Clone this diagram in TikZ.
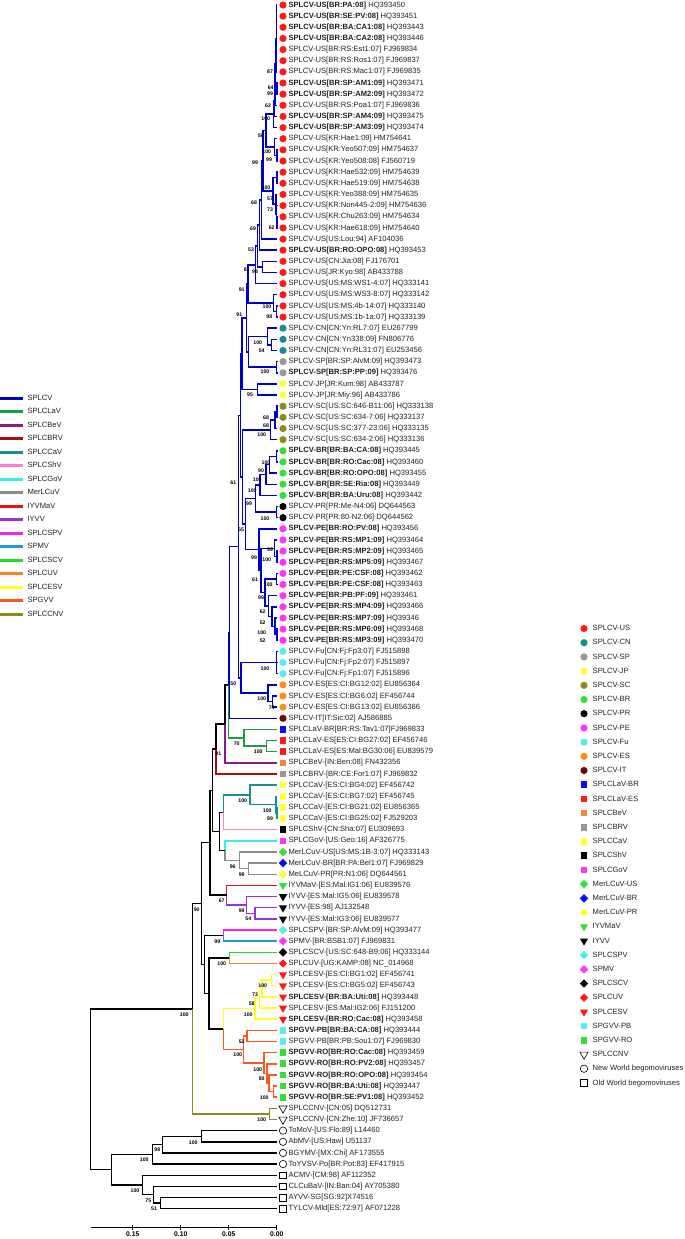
\documentclass[tikz,border=0pt]{standalone}
\usepackage{fontspec}
\setmainfont{Liberation Sans}
\usetikzlibrary{calc, shapes.geometric}

% branch colours
\definecolor{splcv}{HTML}{0000CC}
\definecolor{lav}{HTML}{1E9A4A}
\definecolor{bev}{HTML}{8B1A8B}
\definecolor{brv}{HTML}{A01010}
\definecolor{cav}{HTML}{1A8F8F}
\definecolor{shv}{HTML}{FF80C8}
\definecolor{gov}{HTML}{33F0F0}
\definecolor{mer}{HTML}{8C8C8C}
\definecolor{iyvmav}{HTML}{EE1111}
\definecolor{iyvv}{HTML}{9B30E0}
\definecolor{spv}{HTML}{FF22EE}
\definecolor{spmv}{HTML}{1E9BD7}
\definecolor{scv}{HTML}{22DD22}
\definecolor{uv}{HTML}{F0882A}
\definecolor{cesv}{HTML}{FFFF22}
\definecolor{gvv}{HTML}{FF5522}
\definecolor{cnv}{HTML}{8C8C1E}
% marker colours
\definecolor{cUS}{HTML}{FF1A1A}
\definecolor{cCN}{HTML}{1A8C8C}
\definecolor{cSP}{HTML}{999999}
\definecolor{cJP}{HTML}{FFFF33}
\definecolor{cSC}{HTML}{8C8C1E}
\definecolor{cBR}{HTML}{33E033}
\definecolor{cPE}{HTML}{FF33FF}
\definecolor{cFu}{HTML}{55EEEE}
\definecolor{cES}{HTML}{FF8C1A}
\definecolor{cIT}{HTML}{6B0A0A}
\definecolor{cLaBR}{HTML}{0A0AFF}
\definecolor{cBeV}{HTML}{F0883A}
\definecolor{txt}{HTML}{222222}

% leaf: index, marker, label
\newcommand{\leaf}[3]{%
  \coordinate (tip#1) at (277,{5+11.145*(#1-1)});
  \node[#2] (mk#1) at (283,{5+11.145*(#1-1)}) {};
  \node[lab] (lab#1) at (288.4,{5+11.145*(#1-1)}) {#3};}
% internal node half way between two children
\newcommand{\clade}[4]{%
  \path let \p1=(#3), \p2=(#4) in coordinate (#1) at (#2pt,{0.5*(\y1+\y2)});}
\newcommand{\br}[3]{\draw[tr,#1] (#2) |- (#3);}
\newcommand{\fork}[6]{\clade{#1}{#2}{#4}{#6}\br{#3}{#1}{#4}\br{#5}{#1}{#6}}
% right key row
\newcommand{\legrow}[3]{%
  \node[#2] (km#1) at (584,{628.5+14.2*(#1-1)}) {};
  \node[lab] (kt#1) at (592.5,{628.5+14.2*(#1-1)}) {#3};}

\begin{document}
\begin{tikzpicture}[x=1pt, y=-1pt,
    tr/.style={line width=1.45pt},
    lab/.style={anchor=west, inner sep=0pt, text=txt,
                font=\fontsize{7.6}{8}\selectfont, text height=5.6pt, text depth=1.4pt},
    bs/.style={inner sep=0pt, font=\fontsize{5.2}{5}\selectfont\bfseries},
    sclab/.style={inner sep=0pt, font=\fontsize{6.8}{7}\selectfont\bfseries},
    mdot/.style={circle, fill=#1, minimum size=7.2pt, inner sep=0pt},
    msq/.style={rectangle, fill=#1, minimum size=6.6pt, inner sep=0pt},
    mdia/.style={diamond, fill=#1, minimum size=8.6pt, inner sep=0pt},
    mtri/.style={regular polygon, regular polygon sides=3, shape border rotate=180,
                 fill=#1, minimum size=9.5pt, inner sep=0pt},
    motri/.style={regular polygon, regular polygon sides=3, shape border rotate=180,
                  draw, line width=0.6pt, minimum size=9.5pt, inner sep=0pt},
    mocirc/.style={circle, draw, line width=0.6pt, minimum size=7.4pt, inner sep=0pt},
    mosq/.style={rectangle, draw, line width=0.6pt, minimum size=6.8pt, inner sep=0pt}]

\fill[white] (0,0) rectangle (685,1239);
\useasboundingbox (0,0) rectangle (685,1239);

% ---- leaves
\leaf{1}{mdot=cUS}{\textbf{SPLCV-US[BR:PA:08]} HQ393450}
\leaf{2}{mdot=cUS}{\textbf{SPLCV-US[BR:SE:PV:08]} HQ393451}
\leaf{3}{mdot=cUS}{\textbf{SPLCV-US[BR:BA:CA1:08]} HQ393443}
\leaf{4}{mdot=cUS}{\textbf{SPLCV-US[BR:BA:CA2:08]} HQ393446}
\leaf{5}{mdot=cUS}{SPLCV-US[BR:RS:Est1:07] FJ969834}
\leaf{6}{mdot=cUS}{SPLCV-US[BR:RS:Ros1:07] FJ969837}
\leaf{7}{mdot=cUS}{SPLCV-US[BR:RS:Mac1:07] FJ969835}
\leaf{8}{mdot=cUS}{\textbf{SPLCV-US[BR:SP:AM1:09]} HQ393471}
\leaf{9}{mdot=cUS}{\textbf{SPLCV-US[BR:SP:AM2:09]} HQ393472}
\leaf{10}{mdot=cUS}{SPLCV-US[BR:RS:Poa1:07] FJ969836}
\leaf{11}{mdot=cUS}{\textbf{SPLCV-US[BR:SP:AM4:09]} HQ393475}
\leaf{12}{mdot=cUS}{\textbf{SPLCV-US[BR:SP:AM3:09]} HQ393474}
\leaf{13}{mdot=cUS}{SPLCV-US[KR:Hae1:09] HM754641}
\leaf{14}{mdot=cUS}{SPLCV-US[KR:Yeo507:09] HM754637}
\leaf{15}{mdot=cUS}{SPLCV-US[KR:Yeo508:08] FJ560719}
\leaf{16}{mdot=cUS}{SPLCV-US[KR:Hae532:09] HM754639}
\leaf{17}{mdot=cUS}{SPLCV-US[KR:Hae519:09] HM754638}
\leaf{18}{mdot=cUS}{SPLCV-US[KR:Yeo388:09] HM754635}
\leaf{19}{mdot=cUS}{SPLCV-US[KR:Non445-2:09] HM754636}
\leaf{20}{mdot=cUS}{SPLCV-US[KR:Chu263:09] HM754634}
\leaf{21}{mdot=cUS}{SPLCV-US[KR:Hae618:09] HM754640}
\leaf{22}{mdot=cUS}{SPLCV-US[US:Lou:94] AF104036}
\leaf{23}{mdot=cUS}{\textbf{SPLCV-US[BR:RO:OPO:08]} HQ393453}
\leaf{24}{mdot=cUS}{SPLCV-US[CN:Jia:08] FJ176701}
\leaf{25}{mdot=cUS}{SPLCV-US[JR:Kyo:98] AB433788}
\leaf{26}{mdot=cUS}{SPLCV-US[US:MS:WS1-4:07] HQ333141}
\leaf{27}{mdot=cUS}{SPLCV-US[US:MS:WS3-8:07] HQ333142}
\leaf{28}{mdot=cUS}{SPLCV-US[US:MS:4b-14:07] HQ333140}
\leaf{29}{mdot=cUS}{SPLCV-US[US:MS:1b-1a:07] HQ333139}
\leaf{30}{mdot=cCN}{SPLCV-CN[CN:Yn:RL7:07] EU267799}
\leaf{31}{mdot=cCN}{SPLCV-CN[CN:Yn338:09] FN806776}
\leaf{32}{mdot=cCN}{SPLCV-CN[CN:Yn:RL31:07] EU253456}
\leaf{33}{mdot=cSP}{SPLCV-SP[BR:SP:AlvM:09] HQ393473}
\leaf{34}{mdot=cSP}{\textbf{SPLCV-SP[BR:SP:PP:09]} HQ393476}
\leaf{35}{mdot=cJP}{SPLCV-JP[JR:Kum:98] AB433787}
\leaf{36}{mdot=cJP}{SPLCV-JP[JR:Miy:96] AB433786}
\leaf{37}{mdot=cSC}{SPLCV-SC[US:SC:646-B11:06] HQ333138}
\leaf{38}{mdot=cSC}{SPLCV-SC[US:SC:634-7:06] HQ333137}
\leaf{39}{mdot=cSC}{SPLCV-SC[US:SC:377-23:06] HQ333135}
\leaf{40}{mdot=cSC}{SPLCV-SC[US:SC:634-2:06] HQ333136}
\leaf{41}{mdot=cBR}{\textbf{SPLCV-BR[BR:BA:CA:08]} HQ393445}
\leaf{42}{mdot=cBR}{\textbf{SPLCV-BR[BR:RO:Cac:08]} HQ393460}
\leaf{43}{mdot=cBR}{\textbf{SPLCV-BR[BR:RO:OPO:08]} HQ393455}
\leaf{44}{mdot=cBR}{\textbf{SPLCV-BR[BR:SE:Ria:08]} HQ393449}
\leaf{45}{mdot=cBR}{\textbf{SPLCV-BR[BR:BA:Uru:08]} HQ393442}
\leaf{46}{mdot=black}{SPLCV-PR[PR:Me-N4:06] DQ644563}
\leaf{47}{mdot=black}{SPLCV-PR[PR:80-N2:06] DQ644562}
\leaf{48}{mdot=cPE}{\textbf{SPLCV-PE[BR:RO:PV:08]} HQ393456}
\leaf{49}{mdot=cPE}{\textbf{SPLCV-PE[BR:RS:MP1:09]} HQ393464}
\leaf{50}{mdot=cPE}{\textbf{SPLCV-PE[BR:RS:MP2:09]} HQ393465}
\leaf{51}{mdot=cPE}{\textbf{SPLCV-PE[BR:RS:MP5:09]} HQ393467}
\leaf{52}{mdot=cPE}{\textbf{SPLCV-PE[BR:PE:CSF:08]} HQ393462}
\leaf{53}{mdot=cPE}{\textbf{SPLCV-PE[BR:PE:CSF:08]} HQ393463}
\leaf{54}{mdot=cPE}{\textbf{SPLCV-PE[BR:PB:PF:09]} HQ393461}
\leaf{55}{mdot=cPE}{\textbf{SPLCV-PE[BR:RS:MP4:09]} HQ393466}
\leaf{56}{mdot=cPE}{\textbf{SPLCV-PE[BR:RS:MP7:09]} HQ39346}
\leaf{57}{mdot=cPE}{\textbf{SPLCV-PE[BR:RS:MP6:09]} HQ393468}
\leaf{58}{mdot=cPE}{\textbf{SPLCV-PE[BR:RS:MP3:09]} HQ393470}
\leaf{59}{mdot=cFu}{SPLCV-Fu[CN:Fj:Fp3:07] FJ515898}
\leaf{60}{mdot=cFu}{SPLCV-Fu[CN:Fj:Fp2:07] FJ515897}
\leaf{61}{mdot=cFu}{SPLCV-Fu[CN:Fj:Fp1:07] FJ515896}
\leaf{62}{mdot=cES}{SPLCV-ES[ES:CI:BG12:02] EU856364}
\leaf{63}{mdot=cES}{SPLCV-ES[ES:CI:BG6:02] EF456744}
\leaf{64}{mdot=cES}{SPLCV-ES[ES:CI:BG13:02] EU856366}
\leaf{65}{mdot=cIT}{SPLCV-IT[IT:Sic:02] AJ586885}
\leaf{66}{msq=cLaBR}{SPLCLaV-BR[BR:RS:Tav1:07]FJ969833}
\leaf{67}{msq=cUS}{SPLCLaV-ES[ES:CI:BG27:02] EF456746}
\leaf{68}{msq=cUS}{SPLCLaV-ES[ES:Mal:BG30:06] EU839579}
\leaf{69}{msq=cBeV}{SPLCBeV-[IN:Ben:08] FN432356}
\leaf{70}{msq=cSP}{SPLCBRV-[BR:CE:For1:07] FJ969832}
\leaf{71}{msq=cJP}{SPLCCaV-[ES:CI:BG4:02] EF456742}
\leaf{72}{msq=cJP}{SPLCCaV-[ES:CI:BG7:02] EF456745}
\leaf{73}{msq=cJP}{SPLCCaV-[ES:CI:BG21:02] EU856365}
\leaf{74}{msq=cJP}{SPLCCaV-[ES:CI:BG25:02] FJ529203}
\leaf{75}{msq=black}{SPLCShV-[CN:Sha:07] EU309693}
\leaf{76}{msq=cPE}{SPLCGoV-[US:Geo:16] AF326775}
\leaf{77}{mdia=cBR}{MerLCuV-US[US:MS:1B-3:07] HQ333143}
\leaf{78}{mdia=cLaBR}{MerLCuV-BR[BR:PA:Bel1:07] FJ969829}
\leaf{79}{mdia=cJP}{MeLCuV-PR[PR:N1:06] DQ644561}
\leaf{80}{mtri=cBR}{IYVMaV-[ES:Mal:IG1:06] EU839576}
\leaf{81}{mtri=black}{IYVV-[ES:Mal:IG5:06] EU839578}
\leaf{82}{mtri=black}{IYVV-[ES:98] AJ132548}
\leaf{83}{mtri=black}{IYVV-[ES:Mal:IG3:06] EU839577}
\leaf{84}{mdia=cFu}{SPLCSPV-[BR:SP:AlvM:09] HQ393477}
\leaf{85}{mdia=cPE}{SPMV-[BR:BSB1:07] FJ969831}
\leaf{86}{mdia=black}{SPLCSCV-[US:SC:648-B9:06] HQ333144}
\leaf{87}{mdia=cUS}{SPLCUV-[UG:KAMP:08] NC\_014968}
\leaf{88}{mtri=cUS}{SPLCESV-[ES:CI:BG1:02] EF456741}
\leaf{89}{mtri=cUS}{SPLCESV-[ES:CI:BG5:02] EF456743}
\leaf{90}{mtri=cUS}{\textbf{SPLCESV-[BR:BA:Uti:08]} HQ393448}
\leaf{91}{mtri=cUS}{SPLCESV-[ES:Mal:IG2:06] FJ151200}
\leaf{92}{mtri=cUS}{\textbf{SPLCESV-[BR:RO:Cac:08]} HQ393458}
\leaf{93}{msq=cFu}{\textbf{SPGVV-PB[BR:BA:CA:08]} HQ393444}
\leaf{94}{msq=cFu}{SPGVV-PB[BR:PB:Sou1:07] FJ969830}
\leaf{95}{msq=cBR}{\textbf{SPGVV-RO[BR:RO:Cac:08]} HQ393459}
\leaf{96}{msq=cBR}{\textbf{SPGVV-RO[BR:RO:PV2:08]} HQ393457}
\leaf{97}{msq=cBR}{\textbf{SPGVV-RO[BR:RO:OPO:08]} HQ393454}
\leaf{98}{msq=cBR}{\textbf{SPGVV-RO[BR:BA:Uti:08]} HQ393447}
\leaf{99}{msq=cBR}{\textbf{SPGVV-RO[BR:SE:PV1:08]} HQ393452}
\leaf{100}{motri}{SPLCCNV-[CN:05] DQ512731}
\leaf{101}{motri}{SPLCCNV-[CN:Zhe:10] JF736657}
\leaf{102}{mocirc}{ToMoV-[US:Flo:89] L14460}
\leaf{103}{mocirc}{AbMV-[US:Haw] U51137}
\leaf{104}{mocirc}{BGYMV-[MX:Chi] AF173555}
\leaf{105}{mocirc}{ToYVSV-Po[BR:Pot:83] EF417915}
\leaf{106}{mosq}{ACMV-[CM:98] AF112352}
\leaf{107}{mosq}{CLCuBaV-[IN:Ban:04] AY705380}
\leaf{108}{mosq}{AYVV-SG[SG:92]X74516}
\leaf{109}{mosq}{TYLCV-Mld[ES:72:97] AF071228}

% ---- SPLCV-US
\clade{u1}{276.3}{tip1}{tip7}
\foreach \i in {1,...,7} {\br{splcv}{u1}{tip\i}}
\fork{u2}{276.8}{splcv}{tip8}{splcv}{tip9}
\fork{u3}{275.6}{splcv}{u1}{splcv}{u2}
\fork{u4}{275}{splcv}{u3}{splcv}{tip10}
\fork{u5}{274.4}{splcv}{u4}{splcv}{tip11}
\fork{u6}{273.6}{splcv}{u5}{splcv}{tip12}
\fork{u7}{276.8}{splcv}{tip14}{splcv}{tip15}
\fork{u8}{274.5}{splcv}{tip13}{splcv}{u7}
\fork{u9}{266}{splcv}{u6}{splcv}{u8}
\fork{k1}{276.8}{splcv}{tip16}{splcv}{tip17}
\fork{k2}{276.8}{splcv}{tip20}{splcv}{tip21}
\fork{k3}{276.5}{splcv}{tip19}{splcv}{k2}
\fork{k4}{276.2}{splcv}{tip18}{splcv}{k3}
\fork{k5}{273}{splcv}{k1}{splcv}{k4}
\fork{c1}{263}{splcv}{u9}{splcv}{k5}
\fork{c2}{261.5}{splcv}{c1}{splcv}{tip22}
\fork{c3}{259.5}{splcv}{c2}{splcv}{tip23}
\fork{d1}{262.7}{splcv}{tip24}{splcv}{tip25}
\fork{c4}{257.5}{splcv}{c3}{splcv}{d1}
\fork{c5}{255.5}{splcv}{c4}{splcv}{tip26}
\fork{e1}{276.5}{splcv}{tip28}{splcv}{tip29}
\fork{e2}{273.5}{splcv}{tip27}{splcv}{e1}
\fork{c6}{248}{splcv}{c5}{splcv}{e2}
% ---- CN, SP, JP, SC
\fork{n1}{271.7}{splcv}{tip31}{splcv}{tip32}
\fork{n2}{267.3}{splcv}{tip30}{splcv}{n1}
\fork{p1}{276.7}{splcv}{tip33}{splcv}{tip34}
\fork{c7}{248.5}{splcv}{n2}{splcv}{p1}
\fork{c8}{246.5}{splcv}{c6}{splcv}{c7}
\fork{j1}{257.3}{splcv}{tip35}{splcv}{tip36}
\fork{c9}{242}{splcv}{c8}{splcv}{j1}
\fork{s1}{276.8}{splcv}{tip37}{splcv}{tip38}
\fork{s2}{275}{splcv}{s1}{splcv}{tip39}
\fork{s3}{270.7}{splcv}{s2}{splcv}{tip40}
% ---- BR, PR, PE
\fork{r1}{276.7}{splcv}{tip41}{splcv}{tip42}
\fork{r2}{269.3}{splcv}{r1}{splcv}{tip43}
\fork{r3}{266}{splcv}{r2}{splcv}{tip44}
\fork{r4}{260}{splcv}{r3}{splcv}{tip45}
\fork{q1}{276.7}{splcv}{tip46}{splcv}{tip47}
\fork{r5}{255.5}{splcv}{r4}{splcv}{q1}
\fork{pe1}{276.8}{splcv}{tip50}{splcv}{tip51}
\fork{pe2}{274.5}{splcv}{tip49}{splcv}{pe1}
\fork{pe3}{276.7}{splcv}{tip52}{splcv}{tip53}
\fork{pe4}{276.8}{splcv}{tip57}{splcv}{tip58}
\fork{pe5}{275}{splcv}{tip56}{splcv}{pe4}
\fork{pe6}{272}{splcv}{tip55}{splcv}{pe5}
\fork{pe7}{268.3}{splcv}{tip54}{splcv}{pe6}
\fork{pe8}{265}{splcv}{pe3}{splcv}{pe7}
\fork{pe9}{261}{splcv}{pe2}{splcv}{pe8}
\fork{pe10}{259}{splcv}{tip48}{splcv}{pe9}
\fork{f1}{245.5}{splcv}{r5}{splcv}{pe10}
\fork{g1}{242.5}{splcv}{s3}{splcv}{f1}
\fork{t2}{240.5}{splcv}{c9}{splcv}{g1}
% ---- Fu, ES, IT
\clade{fu}{276.7}{tip59}{tip61}
\foreach \i in {59,60,61} {\br{splcv}{fu}{tip\i}}
\fork{es1}{272.7}{splcv}{tip63}{splcv}{tip64}
\fork{es2}{268}{splcv}{tip62}{splcv}{es1}
\fork{jj}{241}{splcv}{fu}{splcv}{es2}
\fork{t3}{238.5}{splcv}{t2}{splcv}{jj}
\fork{sr}{229.5}{splcv}{t3}{splcv}{tip65}
% ---- other sweepoviruses
\fork{la1}{266.7}{lav}{tip67}{lav}{tip68}
\fork{la2}{244}{lav}{tip66}{lav}{la1}
\fork{kk}{228.3}{splcv}{sr}{lav}{la2}
\fork{pp}{225}{black}{kk}{bev}{tip69}
\fork{mm}{216}{black}{pp}{brv}{tip70}
\fork{ca1}{276.8}{cav}{tip73}{cav}{tip74}
\fork{ca2}{275.8}{cav}{tip72}{cav}{ca1}
\fork{ca3}{250}{cav}{tip71}{cav}{ca2}
\fork{cs}{223.3}{cav}{ca3}{shv}{tip75}
\fork{me1}{248.3}{mer}{tip78}{mer}{tip79}
\fork{me2}{239.3}{mer}{tip77}{mer}{me1}
\fork{gm}{225}{gov}{tip76}{mer}{me2}
\fork{nn1}{219.3}{black}{cs}{black}{gm}
\fork{nn0}{212.5}{black}{mm}{black}{nn1}
\fork{iy1}{255}{iyvv}{tip82}{iyvv}{tip83}
\fork{iy2}{246.7}{iyvv}{tip81}{iyvv}{iy1}
\fork{iy3}{226.7}{iyvmav}{tip80}{iyvv}{iy2}
\fork{nn2}{210}{black}{nn0}{black}{iy3}
\fork{sp}{223.3}{spv}{tip84}{spmv}{tip85}
\fork{su}{229.3}{scv}{tip86}{uv}{tip87}
\fork{ce1}{271.7}{cesv}{tip88}{cesv}{tip89}
\fork{ce2}{262}{cesv}{ce1}{cesv}{tip90}
\fork{ce3}{259.5}{cesv}{ce2}{cesv}{tip91}
\fork{ce4}{255}{cesv}{ce3}{cesv}{tip92}
\fork{gv1}{247}{gvv}{tip93}{gvv}{tip94}
\fork{gv2}{273.3}{gvv}{tip98}{gvv}{tip99}
\fork{gv3}{269}{gvv}{tip97}{gvv}{gv2}
\fork{gv4}{267}{gvv}{tip96}{gvv}{gv3}
\fork{gv5}{264}{gvv}{tip95}{gvv}{gv4}
\fork{gv6}{243.5}{gvv}{gv1}{gvv}{gv5}
\fork{cg}{223.3}{cesv}{ce4}{gvv}{gv6}
\fork{qq1}{209}{black}{su}{black}{cg}
\fork{qq2}{204.5}{black}{sp}{black}{qq1}
\fork{ww}{201.5}{black}{nn2}{black}{qq2}
\fork{cn}{269.3}{cnv}{tip100}{cnv}{tip101}
\fork{xx}{192.3}{black}{ww}{cnv}{cn}
% ---- outgroups
\fork{nw1}{201.7}{black}{tip102}{black}{tip103}
\fork{nw2}{162.3}{black}{nw1}{black}{tip104}
\fork{nw3}{152.3}{black}{nw2}{black}{tip105}
\fork{ow1}{160.7}{black}{tip108}{black}{tip109}
\fork{ow2}{153.3}{black}{tip107}{black}{ow1}
\fork{ow3}{142.7}{black}{tip106}{black}{ow2}
\fork{oo}{111.7}{black}{nw3}{black}{ow3}
\fork{rt}{90.7}{black}{xx}{black}{oo}

% ---- bootstrap values
\foreach \x/\y/\v [count=\k] in {
  270/72/87, 270.7/88/64, 270/94/99, 268/106/62, 265.7/119/100, 260.7/136/56,
  266.7/152/100, 269/160/99, 255/162.7/99, 266/188/100, 270/198.7/57, 270/210/73,
  271.7/227.7/62, 254/202.7/68, 253/229/69, 251/250/53, 246.7/269.3/83, 255/271.7/98,
  241.7/289.3/91, 267/307/100, 269.3/316.7/98, 239.3/315/91, 257.7/342.3/100,
  261.7/350.7/54, 265/371.7/100, 250/394.3/95, 266/417.3/68, 266/426/68,
  261.7/435/100, 266/462.3/100, 261/470.7/90, 257.3/480/100, 252.3/490.7/100,
  249/503.3/99, 265/518.3/100, 233.3/482.3/61, 241/530/65, 270/550/99,
  254/557.3/99, 266.7/559.3/100, 255/579.3/61, 268.3/585/100, 261/597.7/99,
  262.7/612/62, 262.7/622.3/52, 261.7/632.7/100, 262.7/640.7/52, 265/669/100,
  233.3/683.3/50, 261.7/699/100, 271.7/707.7/74, 236.7/743.3/70, 258.3/751.7/100,
  218.3/754/91, 242.7/800.7/100, 267.3/811/100, 270/819/89, 232.7/866.7/96,
  241.7/875/99, 221.7/900.7/67, 196.7/909.3/90, 241.7/911/99, 248.3/919/54,
  217.3/941.7/99, 221.7/964/100, 262.7/986/100, 255/994.3/73, 251.7/1004/58,
  248.3/1015/100, 241.7/1041.7/52, 237.7/1055/100, 257.7/1069.3/100,
  261.7/1079/80, 264.3/1097.3/100, 184.3/1014.3/100, 261.7/1120/100,
  193.3/1142.3/100, 157.3/1150/98, 144.3/1160/100, 148.3/1201/75,
  154/1208.7/51, 135/1191/100}
  {\node[bs] (bs\k) at (\x,\y) {\v};}

% ---- scale bar
\coordinate (sb0) at (90.7,1227.7);
\coordinate (sb1) at (276.7,1227.7);
\draw[line width=0.8pt] (sb0) -- (sb1);
\foreach \v/\xx [count=\k] in {0.15/132.7, 0.10/180.7, 0.05/228.7, 0.00/276.7} {
  \coordinate (tk\k) at (\xx,1227.7);
  \draw[line width=0.8pt] ([yshift=2.5pt]tk\k) -- ([yshift=-2.5pt]tk\k);
  \node[sclab] (sl\k) at (\xx,1234.3) {\v};
}

% ---- colour key, left
\foreach \c/\t [count=\i] in {splcv/SPLCV, lav/SPLCLaV, bev/SPLCBeV, brv/SPLCBRV,
    cav/SPLCCaV, shv/SPLCShV, gov/SPLCGoV, mer/MerLCuV, iyvmav/IYVMaV, iyvv/IYVV,
    spv/SPLCSPV, spmv/SPMV, scv/SPLCSCV, uv/SPLCUV, cesv/SPLCESV, gvv/SPGVV, cnv/SPLCCNV} {
  \coordinate (ga\i) at (0,{398.3+13.5*(\i-1)});
  \coordinate (gb\i) at (23.3,{398.3+13.5*(\i-1)});
  \draw[color=\c, line width=3.3pt] (ga\i) -- (gb\i);
  \node[lab] (gt\i) at (27.3,{398.3+13.5*(\i-1)}) {\t};
}

% ---- symbol key, right
\legrow{1}{mdot=cUS}{SPLCV-US}
\legrow{2}{mdot=cCN}{SPLCV-CN}
\legrow{3}{mdot=cSP}{SPLCV-SP}
\legrow{4}{mdot=cJP}{SPLCV-JP}
\legrow{5}{mdot=cSC}{SPLCV-SC}
\legrow{6}{mdot=cBR}{SPLCV-BR}
\legrow{7}{mdot=black}{SPLCV-PR}
\legrow{8}{mdot=cPE}{SPLCV-PE}
\legrow{9}{mdot=cFu}{SPLCV-Fu}
\legrow{10}{mdot=cES}{SPLCV-ES}
\legrow{11}{mdot=cIT}{SPLCV-IT}
\legrow{12}{msq=cLaBR}{SPLCLaV-BR}
\legrow{13}{msq=cUS}{SPLCLaV-ES}
\legrow{14}{msq=cBeV}{SPLCBeV}
\legrow{15}{msq=cSP}{SPLCBRV}
\legrow{16}{msq=cJP}{SPLCCaV}
\legrow{17}{msq=black}{SPLCShV}
\legrow{18}{msq=cPE}{SPLCGoV}
\legrow{19}{mdia=cBR}{MerLCuV-US}
\legrow{20}{mdia=cLaBR}{MerLCuV-BR}
\legrow{21}{mdia=cJP}{MerLCuV-PR}
\legrow{22}{mtri=cBR}{IYVMaV}
\legrow{23}{mtri=black}{IYVV}
\legrow{24}{mdia=cFu}{SPLCSPV}
\legrow{25}{mdia=cPE}{SPMV}
\legrow{26}{mdia=black}{SPLCSCV}
\legrow{27}{mdia=cUS}{SPLCUV}
\legrow{28}{mtri=cUS}{SPLCESV}
\legrow{29}{msq=cFu}{SPGVV-PB}
\legrow{30}{msq=cBR}{SPGVV-RO}
\legrow{31}{motri}{SPLCCNV}
\legrow{32}{mocirc}{New World begomoviruses}
\legrow{33}{mosq}{Old World begomoviruses}

\end{tikzpicture}
\end{document}
